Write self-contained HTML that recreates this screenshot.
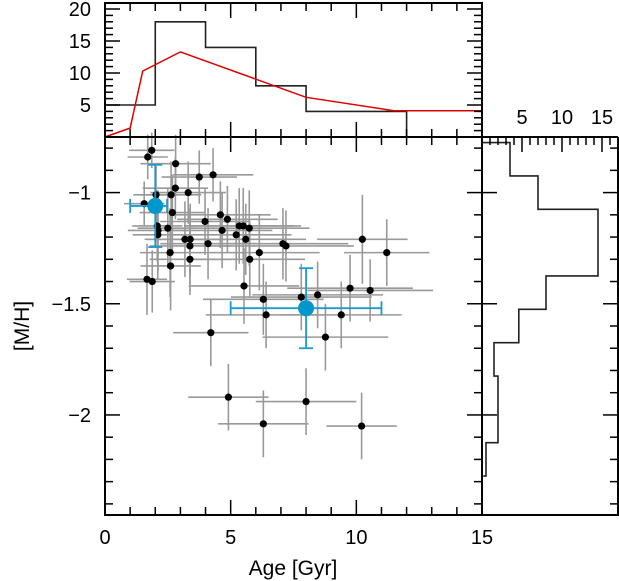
<!DOCTYPE html>
<html><head><meta charset="utf-8"><style>
html,body{margin:0;padding:0;background:#fff;}
svg{display:block;font-family:"Liberation Sans","DejaVu Sans",sans-serif;}
</style></head><body>
<svg id="chart" width="619" height="581" viewBox="0 0 619 581" xmlns="http://www.w3.org/2000/svg">
<g id="errs"></g>
<g id="pts"></g>
<g id="blue"></g>
<g id="tophist"></g>
<g id="righthist"></g>
<g id="axes"></g>
<text x="293" y="575" font-size="21" text-anchor="middle">Age [Gyr]</text>
<text x="0" y="0" font-size="21" text-anchor="middle" transform="translate(29,326) rotate(-90)">[M/H]</text>
</svg>
<script>
// data
const ages = [1.86,1.70,2.81,3.75,4.30,2.80,2.03,2.63,3.31,1.56,2.68,3.98,4.59,4.87,2.08,2.11,2.10,2.50,4.66,5.34,5.50,5.74,5.22,5.60,3.18,3.39,3.38,4.10,7.08,7.20,2.59,6.14,3.38,2.61,5.76,1.67,1.88,5.53,6.30,6.41,7.81,8.46,9.40,9.75,10.24,11.21,10.55,8.77,4.21,4.91,6.30,8.00,10.21];
const mhs = [-0.81,-0.84,-0.87,-0.93,-0.92,-0.98,-1.01,-1.01,-1.00,-1.05,-1.09,-1.13,-1.10,-1.12,-1.15,-1.17,-1.19,-1.16,-1.17,-1.15,-1.15,-1.16,-1.19,-1.21,-1.21,-1.21,-1.24,-1.23,-1.23,-1.24,-1.27,-1.27,-1.30,-1.33,-1.30,-1.39,-1.40,-1.42,-1.48,-1.55,-1.47,-1.46,-1.55,-1.43,-1.21,-1.27,-1.44,-1.65,-1.63,-1.92,-2.04,-1.94,-2.05];
const ageErr = [0.9,0.8,1.4,1.5,1.6,1.3,0.9,1.2,1.5,0.8,1.3,1.8,2.0,2.0,1.0,1.2,1.0,1.2,2.0,2.2,2.3,2.4,2.2,2.4,1.6,1.7,1.6,1.9,2.6,2.7,1.2,2.4,1.6,1.2,2.2,0.8,0.9,2.2,2.4,2.4,2.8,2.6,2.4,2.5,1.8,1.7,2.5,2.5,1.5,1.6,1.8,2.0,1.4];
const mhErr = [0.08,0.1,0.13,0.12,0.12,0.14,0.13,0.15,0.14,0.1,0.17,0.15,0.15,0.15,0.16,0.18,0.2,0.18,0.17,0.17,0.17,0.17,0.16,0.16,0.17,0.16,0.17,0.16,0.16,0.16,0.2,0.17,0.16,0.2,0.17,0.16,0.14,0.17,0.16,0.15,0.15,0.15,0.15,0.15,0.2,0.15,0.14,0.15,0.15,0.15,0.15,0.15,0.15];
const meanAges = [2.0,8.0];
const meanMhs = [-1.06,-1.52];
const meanAgeLo = [1.0,3.0];
const meanAgeHi = [0.47,3.0];
const meanMhErr = [0.185,0.18];
const ageBinEdges = [0,2,4,6,8,12];
const ageCounts = [5,18,14,8,4];
const modelAges = [0,1,1.5,3,8,11.5,15];
const modelCounts = [0,1.4,10.3,13.3,6.2,4.1,4.1];
const mhBinEdges = [-0.775,-0.925,-1.075,-1.225,-1.375,-1.525,-1.675,-1.825,-1.975,-2.125,-2.275];
const mhCounts = [3.5,7,14.5,14.5,8,4.6,1.5,2,2,0.5];
const xTickLabels = ["0","5","10","15"];
const yTickLabels = ["−1","−1.5","−2"];
const topTickLabels = ["5","10","15","20"];
const rightTickLabels = ["5","10","15"];

const NS="http://www.w3.org/2000/svg";
const L=105,R=482,T=137,B=515,TT=3,RR=618;
const xS=a=>L+a*(R-L)/15;
const yS=m=>T+(-0.75-m)*(B-T)/1.7;
const yTop=c=>T-c*6.4;
const xRight=c=>R+c*8;
function mk(tag,attrs,parent){const e=document.createElementNS(NS,tag);for(const k in attrs)e.setAttribute(k,attrs[k]);parent.appendChild(e);return e;}
const errs=document.getElementById('errs'),pts=document.getElementById('pts'),blue=document.getElementById('blue');
const axes=document.getElementById('axes');
ages.forEach((a,i)=>{
  const h=mk('line',{x1:xS(a-ageErr[i]),x2:xS(a+ageErr[i]),y1:yS(mhs[i]),y2:yS(mhs[i]),stroke:'#999','stroke-width':1.6},errs);
  
  
  const v=mk('line',{x1:xS(a),x2:xS(a),y1:yS(mhs[i]-mhErr[i]),y2:yS(mhs[i]+mhErr[i]),stroke:'#999','stroke-width':1.6},errs);
  
  
});
ages.forEach((a,i)=>{
  const c=mk('circle',{cx:xS(a),cy:yS(mhs[i]),r:3.6,fill:'#000'},pts);
  
  
});
meanAges.forEach((a,i)=>{
  const col='#1a9bd0',y=yS(meanMhs[i]),x=xS(a);
  const x1=xS(a-meanAgeLo[i]),x2=xS(a+meanAgeHi[i]),y1=yS(meanMhs[i]+meanMhErr[i]),y2=yS(meanMhs[i]-meanMhErr[i]);
  const g=mk('g',{stroke:col,'stroke-width':1.8},blue);
  
  
  mk('line',{x1:x1,x2:x2,y1:y,y2:y},g);mk('line',{x1:x,x2:x,y1:y1,y2:y2},g);
  mk('line',{x1:x1,x2:x1,y1:y-7,y2:y+7},g);mk('line',{x1:x2,x2:x2,y1:y-7,y2:y+7},g);
  mk('line',{x1:x-7,x2:x+7,y1:y1,y2:y1},g);mk('line',{x1:x-7,x2:x+7,y1:y2,y2:y2},g);
  const c=mk('circle',{cx:x,cy:y,r:8,fill:'#0098cc'},blue);
  
  
});
// top histogram
const th=document.getElementById('tophist');
let d='M'+xS(0)+','+yTop(ageCounts[0]);
ageCounts.forEach((c,i)=>{d+=' L'+xS(ageBinEdges[i])+','+yTop(c)+' L'+xS(ageBinEdges[i+1])+','+yTop(c);if(i<ageCounts.length-1)d+=' L'+xS(ageBinEdges[i+1])+','+yTop(ageCounts[i+1]);});
d+=' L'+xS(ageBinEdges[ageBinEdges.length-1])+','+yTop(0);
const hp=mk('path',{d:d,fill:'none',stroke:'#222','stroke-width':1.6},th);


const mp=mk('polyline',{points:modelAges.map((a,i)=>xS(a)+','+yTop(modelCounts[i])).join(' '),fill:'none',stroke:'#d00','stroke-width':1.5},th);


// right histogram
const rh=document.getElementById('righthist');
let d2='M'+R+','+yS(mhBinEdges[0]);
mhCounts.forEach((c,i)=>{d2+=' L'+xRight(c)+','+yS(mhBinEdges[i])+' L'+xRight(c)+','+yS(mhBinEdges[i+1]);});
d2+=' L'+xRight(0.15)+','+yS(mhBinEdges[mhBinEdges.length-1]);
const rp=mk('path',{d:d2,fill:'none',stroke:'#222','stroke-width':1.6},rh);


// axes frames
const fr=mk('path',{d:`M${L},${TT} L${R},${TT} L${R},${B} L${L},${B} Z M${L},${T} L${RR},${T} M${RR},${T} L${RR},${B} L${R},${B}`,fill:'none',stroke:'#000','stroke-width':2},axes);


const tk=mk('g',{stroke:'#000','stroke-width':1.5},axes);


function ln(x1,y1,x2,y2){mk('line',{x1,y1,x2,y2},tk);}
for(let a=0;a<=15;a++){const x=xS(a),len=a%5===0?15:8;
  ln(x,B,x,B-len);ln(x,T,x,T+len);ln(x,T,x,T-len);ln(x,TT,x,TT+len);}
for(let k=-24;k<=-8;k++){const m=k/10,y=yS(m),maj=k%5===0;const len=maj?15:8;
  ln(L,y,L+len,y);ln(R,y,R-len,y);ln(R,y,R+(maj?15:0),y);ln(RR,y,RR-len,y);}
for(let c=1;c<=20;c++){const y=yTop(c),len=c%5===0?15:8;ln(L,y,L+len,y);ln(R,y,R-len,y);}
for(let c=1;c<=16;c++){const x=xRight(c),len=c%5===0?15:8;ln(x,T,x,T+len);}
const lab=mk('g',{'font-size':20,fill:'#000'},axes);


xTickLabels.forEach((t,i)=>{const e=mk('text',{x:xS(i*5),y:544,'text-anchor':'middle'},lab);e.textContent=t;});
yTickLabels.forEach((t,i)=>{const e=mk('text',{x:91,y:yS(-1-i*0.5)+7,'text-anchor':'end'},lab);e.textContent=t;});
topTickLabels.forEach((t,i)=>{const e=mk('text',{x:91,y:yTop((i+1)*5)+7,'text-anchor':'end'},lab);e.textContent=t;});
rightTickLabels.forEach((t,i)=>{const e=mk('text',{x:xRight((i+1)*5),y:124,'text-anchor':'middle'},lab);e.textContent=t;});
</script>
</body></html>
